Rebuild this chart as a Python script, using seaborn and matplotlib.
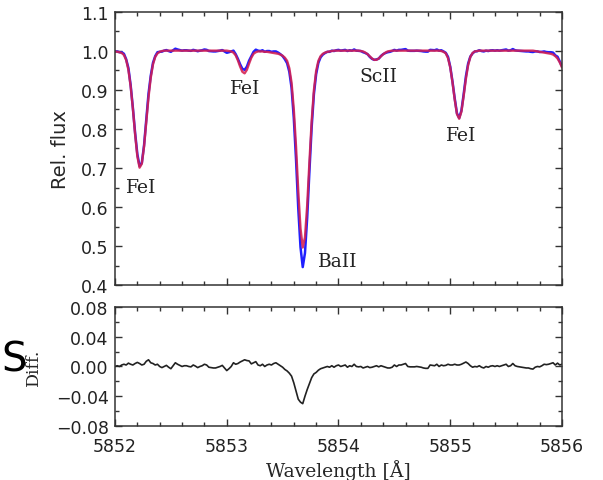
import numpy as np
import matplotlib
matplotlib.use('Agg')
import matplotlib.pyplot as plt
import seaborn as sns
from matplotlib.ticker import MultipleLocator, ScalarFormatter

# wavelength grid (0.02 A steps) and values

wavelength = np.linspace(5852.0, 5856.0, 201)

model_flux = [
    0.998, 0.997, 0.996, 0.994, 0.989, 0.976, 0.951, 0.909, 0.852, 0.786,
    0.730, 0.701, 0.711, 0.755, 0.818, 0.881, 0.931, 0.965, 0.984, 0.993,
    0.997,
    0.999, 1.000, 1.000, 1.000, 1.000, 1.000, 1.000, 1.000, 1.000, 1.000,
    1.000, 1.000, 1.000, 1.000, 1.000, 1.000, 1.000, 1.000, 1.000, 1.000,
    1.000, 1.000, 1.000, 1.000, 1.000, 1.000, 1.000, 1.000, 1.000, 1.000,
    0.999, 0.998, 0.995, 0.988, 0.975, 0.959, 0.946, 0.942, 0.951, 0.967,
    0.982, 0.992, 0.996,
    0.998, 0.998, 0.998, 0.997, 0.997, 0.996, 0.995, 0.994, 0.993, 0.992,
    0.990, 0.987,
    0.982, 0.974, 0.955, 0.918, 0.850, 0.755, 0.641, 0.546, 0.497, 0.523,
    0.605, 0.716, 0.820, 0.899, 0.948, 0.974, 0.986, 0.992, 0.995, 0.997,
    0.998, 0.999,
    1.000, 1.000, 1.000, 1.000, 1.000, 1.000, 1.000, 1.000, 1.000, 1.000,
    1.000, 1.000,
    0.999, 0.998, 0.995, 0.991, 0.9855, 0.980, 0.9765, 0.9765, 0.980, 0.9855,
    0.991, 0.995, 0.998,
    0.999, 1.000, 1.000, 1.000, 1.000, 1.000, 1.000, 1.000, 1.000, 1.000,
    1.000, 1.000, 1.000, 1.000, 1.000, 1.000, 1.000, 1.000, 1.000, 1.000,
    1.000, 1.000, 1.000,
    0.999, 0.997, 0.993, 0.981, 0.957, 0.919, 0.875, 0.838, 0.826, 0.844,
    0.884, 0.928, 0.963, 0.984, 0.994, 0.998,
    0.999, 1.000, 1.000, 1.000, 1.000, 1.000, 1.000, 1.000, 1.000, 1.000,
    1.000, 1.000, 1.000, 1.000, 1.000, 1.000, 1.000, 1.000, 1.000, 1.000,
    1.000, 1.000, 1.000, 1.000, 1.000, 1.000,
    0.999, 0.998, 0.997, 0.996, 0.995, 0.994, 0.993, 0.992, 0.990, 0.986,
    0.980, 0.970, 0.957,
]

diff = [
    0.000, 0.001, 0.000, 0.002, 0.003, 0.002, 0.0045, 0.003, 0.002, 0.004,
    0.0055, 0.004, 0.002, 0.003, 0.007, 0.009, 0.005, 0.004, 0.002, 0.003,
    0.000, -0.0015, 0.000, 0.0015, -0.001, -0.003, 0.001, 0.005, 0.003, 0.0015,
    0.000, 0.001, 0.001, 0.000, -0.0005, 0.002, 0.0005, -0.0015, 0.000, 0.001,
    0.003, 0.002, -0.001, -0.0015, -0.002, -0.002, -0.001, 0.000, 0.0015, -0.002,
    -0.0055, -0.003, 0.000, 0.005, 0.003, 0.004, 0.006, 0.0075, 0.009, 0.008,
    0.0075, 0.0035, 0.005, 0.0065, 0.002, 0.001, 0.003, 0.000, 0.002, 0.003,
    0.002, 0.004, 0.005, 0.003, 0.001, -0.001, -0.004, -0.006, -0.009, -0.013,
    -0.022, -0.033, -0.044, -0.048, -0.050, -0.040, -0.031, -0.023, -0.015, -0.010,
    -0.008, -0.005, -0.003, -0.002, -0.001, 0.000, -0.001, 0.001, -0.001, 0.001,
    0.002, 0.000, 0.001, 0.002, -0.001, 0.001, 0.000, 0.003, 0.000, -0.0005,
    0.000, -0.002, -0.001, 0.000, -0.0015, -0.001, 0.000, 0.001, -0.0005, 0.001,
    0.000, -0.001, -0.002, -0.002, -0.001, 0.002, 0.000, 0.002, 0.002, 0.003,
    0.004, 0.000, -0.0005, -0.0005, -0.0005, 0.000, -0.0005, -0.001, -0.002, -0.0025,
    -0.0025, 0.002, 0.0015, 0.001, 0.003, 0.000, 0.002, 0.001, 0.0015, 0.003,
    0.002, 0.002, 0.003, 0.002, 0.002, 0.003, 0.0045, 0.006, 0.004, 0.001,
    -0.001, 0.000, -0.0005, 0.001, -0.001, -0.002, 0.000, -0.001, 0.0005, 0.001,
    0.000, 0.001, 0.000, 0.001, 0.002, 0.003, 0.000, 0.001, 0.004, 0.001,
    0.000, -0.0005, -0.001, -0.0015, -0.002, -0.002, -0.003, -0.0035, -0.001, 0.000,
    -0.0005, 0.001, 0.003, 0.0025, 0.003, 0.004, 0.005, 0.002, 0.0045, 0.002,
    0.003,
]

# line identifications and where their labels sit

line_names = ['FeI', 'FeI', 'BaII', 'ScII', 'FeI']
label_x = [5852.233, 5853.168, 5853.995, 5854.353, 5855.096]
label_y = [0.652, 0.905, 0.463, 0.934, 0.784]

model_flux = np.array(model_flux)
diff = np.array(diff)
observed_flux = model_flux + diff

sns.set_style('ticks')
plt.rcParams['font.family'] = ['DejaVu Sans']

fig = plt.figure(figsize=(6.03, 4.81), dpi=100)
ax1 = fig.add_axes([0.1907, 0.4044, 0.7413, 0.5696])
ax2 = fig.add_axes([0.1907, 0.1123, 0.7413, 0.2474])

# top panel: observed (blue) and synthetic (red) spectra

sns.lineplot(x=wavelength, y=observed_flux, ax=ax1, color='#2020ff',
             linewidth=1.8, estimator=None, sort=False)
sns.lineplot(x=wavelength, y=model_flux, ax=ax1, color='#d41e50',
             linewidth=1.7, alpha=0.88, estimator=None, sort=False)

for name, x, y in zip(line_names, label_x, label_y):
    ax1.text(x, y, name, ha='center', va='center', fontsize=13.5,
             family='DejaVu Serif', color='#222222')

ax1.set_xlim(5852, 5856)
ax1.set_ylim(0.4, 1.1)
ax1.yaxis.set_major_locator(MultipleLocator(0.1))
ax1.yaxis.set_minor_locator(MultipleLocator(0.05))
ax1.set_ylabel('Rel. flux', fontsize=14, va='center')
ax1.yaxis.set_label_coords(-0.123, 0.5)
ax1.set_xlabel('')
ax1.tick_params(axis='x', labelbottom=False)

# bottom panel: difference

sns.lineplot(x=wavelength, y=diff, ax=ax2, color='#222222',
             linewidth=1.2, estimator=None, sort=False)
ax2.set_xlim(5852, 5856)
ax2.set_ylim(-0.08, 0.08)
ax2.yaxis.set_major_locator(MultipleLocator(0.04))
ax2.yaxis.set_minor_locator(MultipleLocator(0.02))
ax2.set_ylabel('Diff.', fontsize=12.5, family='DejaVu Serif', va='center')
ax2.yaxis.set_label_coords(-0.183, 0.5)
ax2.set_xlabel('Wavelength [Å]', fontsize=13.5, family='DejaVu Serif', va='center')
ax2.xaxis.set_label_coords(0.5, -0.367)

for ax in (ax1, ax2):
    ax.xaxis.set_major_locator(MultipleLocator(1))
    ax.xaxis.set_minor_locator(MultipleLocator(0.2))
    fmt = ScalarFormatter(useOffset=False)
    ax.xaxis.set_major_formatter(fmt)
    ax.tick_params(which='both', direction='in', top=True, right=True,
                   colors='#333333', labelcolor='#222222', labelsize=12.5)
    ax.tick_params(which='major', length=5, width=1)
    ax.tick_params(which='minor', length=3, width=1)
    ax.tick_params(axis='x', pad=8)
    ax.tick_params(axis='y', pad=4.5)
    for spine in ax.spines.values():
        spine.set_visible(True)
        spine.set_color('#333333')
        spine.set_linewidth(1.1)

# bit of slide text at the left edge
fig.text(1 / 603, 0.2505, 'S', ha='left', va='center', fontsize=29,
         color='black')

fig.savefig('out.png', dpi=100)
